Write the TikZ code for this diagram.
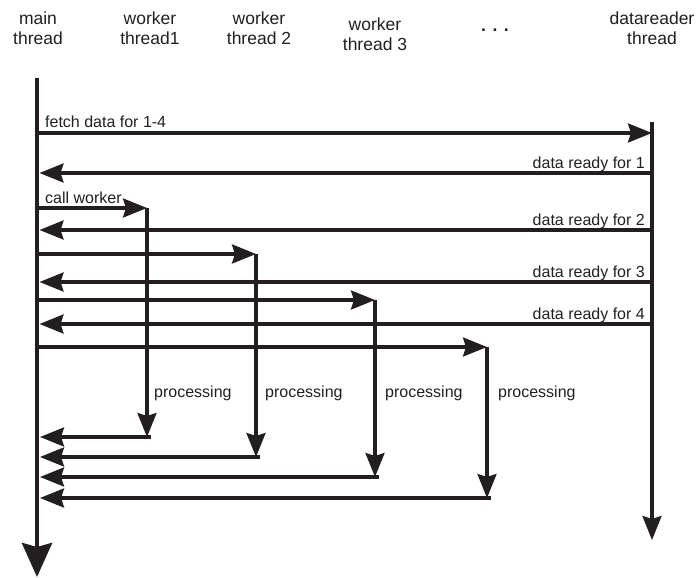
\documentclass[tikz,border=0pt]{standalone}
\usepackage{fontspec}
\setmainfont{Liberation Sans}
\usetikzlibrary{arrows.meta}

\definecolor{ink}{HTML}{231F20}
\tikzset{
  msg/.style={line width=3.2pt, -{Stealth[length=24pt,width=19pt,inset=3pt]}},
  lifeline/.style={line width=3.2pt},
  lbl/.style={font=\fontsize{16}{19}\selectfont, inner sep=0pt},
  threadname/.style={font=\fontsize{17.5}{20}\selectfont, align=center, inner sep=0pt}
}

\begin{document}
\begin{tikzpicture}[x=1pt,y=-1pt,color=ink]
  \useasboundingbox (0,0) rectangle (697,578);

  % thread names
  \node[threadname] (hmain) at (38,28) {main\\thread};
  \node[threadname] (hw1) at (150,28) {worker\\thread1};
  \node[threadname] (hw2) at (259,28) {worker\\thread 2};
  \node[threadname] (hw3) at (375,34) {worker\\thread 3};
  \node[threadname, anchor=base] (hdots) at (495,32) {\textbf{. . .}};
  \node[threadname] (hdr) at (652,28) {datareader\\thread};

  % lifelines of main and datareader
  \coordinate (mtop) at (37,78);
  \coordinate (mend) at (37,577);
  \coordinate (dtop) at (652,122);
  \coordinate (dend) at (652,540);
  \draw[line width=4.5pt, -{Stealth[length=34pt,width=30pt,inset=4pt]}] (mtop) -- (mend);
  \draw[msg] (dtop) -- (dend);

  % fetch request
  \coordinate (fetchm) at (37,133);
  \coordinate (fetchd) at (652,133);
  \draw[msg] (fetchm) -- (fetchd);
  \node[lbl, anchor=base west] (fetchlbl) at (45,128) {fetch data for 1-4};

  % data ready messages
  \coordinate (rdy1d) at (652,173); \coordinate (rdy1m) at (39.5,173);
  \coordinate (rdy2d) at (652,230); \coordinate (rdy2m) at (39.5,230);
  \coordinate (rdy3d) at (652,282); \coordinate (rdy3m) at (39.5,282);
  \coordinate (rdy4d) at (652,324); \coordinate (rdy4m) at (39.5,324);
  \draw[msg] (rdy1d) -- (rdy1m);
  \draw[msg] (rdy2d) -- (rdy2m);
  \draw[msg] (rdy3d) -- (rdy3m);
  \draw[msg] (rdy4d) -- (rdy4m);
  \node[lbl, anchor=base east] (rdy1lbl) at (645,168) {data ready for 1};
  \node[lbl, anchor=base east] (rdy2lbl) at (645,225) {data ready for 2};
  \node[lbl, anchor=base east] (rdy3lbl) at (645,277) {data ready for 3};
  \node[lbl, anchor=base east] (rdy4lbl) at (645,319) {data ready for 4};

  % calls to the workers
  \coordinate (call1m) at (37,208);  \coordinate (call1w) at (147,208);
  \coordinate (call2m) at (39,254);  \coordinate (call2w) at (256,254);
  \coordinate (call3m) at (39,300);  \coordinate (call3w) at (375,300);
  \coordinate (call4m) at (39,347);  \coordinate (call4w) at (487,347);
  \draw[msg] (call1m) -- (call1w);
  \draw[msg] (call2m) -- (call2w);
  \draw[msg] (call3m) -- (call3w);
  \draw[msg] (call4m) -- (call4w);
  \node[lbl, anchor=base west] (calllbl) at (45,203) {call worker};

  % worker processing
  \coordinate (done1w) at (147,437);
  \coordinate (done2w) at (256,457);
  \coordinate (done3w) at (375,477);
  \coordinate (done4w) at (487,498);
  \draw[msg] (call1w) -- (done1w);
  \draw[msg] (call2w) -- (done2w);
  \draw[msg] (call3w) -- (done3w);
  \draw[msg] (call4w) -- (done4w);
  \node[lbl, anchor=base west] (proc1) at (154,397) {processing};
  \node[lbl, anchor=base west] (proc2) at (265,397) {processing};
  \node[lbl, anchor=base west] (proc3) at (385,397) {processing};
  \node[lbl, anchor=base west] (proc4) at (498,397) {processing};

  % results back to main
  \coordinate (ret1w) at (151,437); \coordinate (ret1m) at (40,437);
  \coordinate (ret2w) at (260,457); \coordinate (ret2m) at (40,457);
  \coordinate (ret3w) at (379,477); \coordinate (ret3m) at (40,477);
  \coordinate (ret4w) at (491,498); \coordinate (ret4m) at (40,498);
  \draw[msg] (ret1w) -- (ret1m);
  \draw[msg] (ret2w) -- (ret2m);
  \draw[msg] (ret3w) -- (ret3m);
  \draw[msg] (ret4w) -- (ret4m);

\end{tikzpicture}
\end{document}
